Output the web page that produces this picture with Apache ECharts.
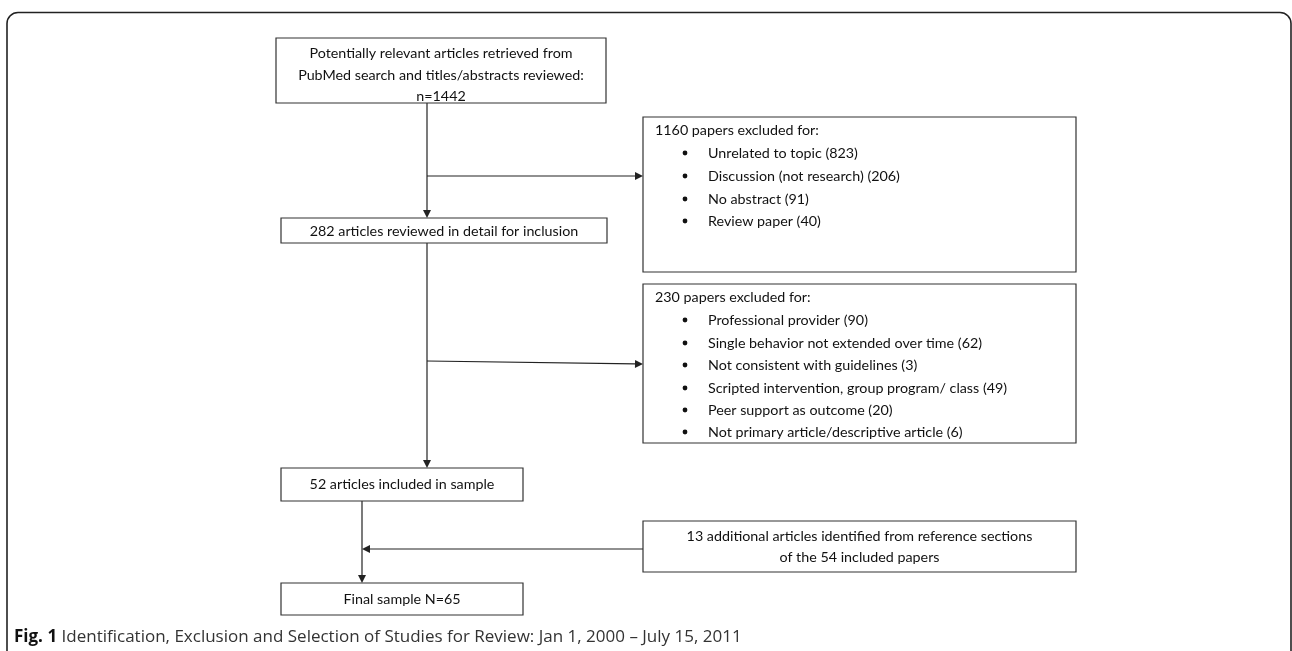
<!DOCTYPE html>
<html><head><meta charset="utf-8">
<script src="https://cdn.jsdelivr.net/npm/echarts@6/dist/echarts.min.js"></script>
<style>html,body{margin:0;padding:0;background:#fff}#c{width:1292px;height:651px}</style>
</head><body><div id="c"></div><script>
// ---- data ----
const totalRetrieved = 1442;
const excluded1Total = 1160;
const excluded1Reasons = ['Unrelated to topic', 'Discussion (not research)', 'No abstract', 'Review paper'];
const excluded1Counts = [823, 206, 91, 40];
const reviewedCount = 282;
const excluded2Total = 230;
const excluded2Reasons = ['Professional provider', 'Single behavior not extended over time', 'Not consistent with guidelines', 'Scripted intervention, group program/ class', 'Peer support as outcome', 'Not primary article/descriptive article'];
const excluded2Counts = [90, 62, 3, 49, 20, 6];
const includedCount = 52;
const additionalCount = 13;
const includedPapersRef = 54;
const finalCount = 65;
const captionBold = 'Fig. 1';
const captionText = 'Identification, Exclusion and Selection of Studies for Review: Jan 1, 2000 \u2013 July 15, 2011';

// ---- box contents built from data ----
const boxTexts = [
  {kind: 'center', lines: ['Potentially relevant articles retrieved from', 'PubMed search and titles/abstracts reviewed:', 'n=' + totalRetrieved]},
  {kind: 'list', title: excluded1Total + ' papers excluded for:', items: excluded1Reasons.map((r, i) => r + ' (' + excluded1Counts[i] + ')')},
  {kind: 'center', lines: [reviewedCount + ' articles reviewed in detail for inclusion']},
  {kind: 'list', title: excluded2Total + ' papers excluded for:', items: excluded2Reasons.map((r, i) => r + ' (' + excluded2Counts[i] + ')')},
  {kind: 'center', lines: [includedCount + ' articles included in sample']},
  {kind: 'center', lines: [additionalCount + ' additional articles identified from reference sections', 'of the ' + includedPapersRef + ' included papers']},
  {kind: 'center', lines: ['Final sample N=' + finalCount]}
];

// ---- layout (diagram geometry in axis units) ----
const boxRects = [
  [276, 38, 606, 103],
  [643, 117, 1076, 272],
  [281, 218, 607, 243],
  [643, 284, 1076, 443],
  [281, 468, 523, 501],
  [643, 521, 1076, 572],
  [281, 583, 523, 615]
];
const boxLineYs = [
  [53, 75, 96],
  [130, 153, 176, 199, 221],
  [231],
  [297, 320, 343, 365, 388, 410, 432],
  [484],
  [536, 557],
  [599]
];
const listTitleX = 655, bulletX = 685, itemX = 708;
const arrows = [
  [427, 103, 427, 218],
  [427, 176, 643, 176],
  [427, 243, 427, 468],
  [427, 361, 643, 364],
  [362, 501, 362, 583],
  [643, 549, 362, 549]
];

const FONT = '14.3px Lato';
const chart = echarts.init(document.getElementById('c'), null, {renderer: 'canvas'});

function renderBox(params, api) {
  const i = params.dataIndex;
  const p1 = api.coord([api.value(0), api.value(1)]);
  const p2 = api.coord([api.value(2), api.value(3)]);
  const t = boxTexts[i];
  const ys = boxLineYs[i];
  const children = [{
    type: 'rect',
    shape: {x: p1[0], y: p1[1], width: p2[0] - p1[0], height: p2[1] - p1[1]},
    style: {fill: '#fff', stroke: '#333', lineWidth: 1.2}
  }];
  const cx = (p1[0] + p2[0]) / 2;
  if (t.kind === 'center') {
    t.lines.forEach((ln, k) => {
      const py = api.coord([0, ys[k]])[1];
      children.push({type: 'text', style: {text: ln, x: cx, y: py, align: 'center', verticalAlign: 'middle', font: FONT, fill: '#111'}});
    });
  } else {
    const ty = api.coord([0, ys[0]])[1];
    children.push({type: 'text', style: {text: t.title, x: api.coord([listTitleX, 0])[0], y: ty, align: 'left', verticalAlign: 'middle', font: FONT, fill: '#111'}});
    t.items.forEach((it, k) => {
      const py = api.coord([0, ys[k + 1]])[1];
      children.push({type: 'circle', shape: {cx: api.coord([bulletX, 0])[0], cy: py, r: 2.4}, style: {fill: '#111'}});
      children.push({type: 'text', style: {text: it, x: api.coord([itemX, 0])[0], y: py, align: 'left', verticalAlign: 'middle', font: FONT, fill: '#111'}});
    });
  }
  return {type: 'group', children};
}

function renderArrow(params, api) {
  const a = api.coord([api.value(0), api.value(1)]);
  const b = api.coord([api.value(2), api.value(3)]);
  const dx = b[0] - a[0], dy = b[1] - a[1];
  const len = Math.sqrt(dx * dx + dy * dy);
  const ux = dx / len, uy = dy / len;
  const hl = 8, hw = 4;
  const bx = b[0] - ux * hl, by = b[1] - uy * hl;
  return {type: 'group', children: [
    {type: 'line', shape: {x1: a[0], y1: a[1], x2: bx, y2: by}, style: {stroke: '#222', lineWidth: 1.2}},
    {type: 'polygon', shape: {points: [[b[0], b[1]], [bx - uy * hw, by + ux * hw], [bx + uy * hw, by - ux * hw]]}, style: {fill: '#222'}}
  ]};
}

chart.setOption({
  animation: false,
  grid: {left: 0, right: 0, top: 0, bottom: 0},
  xAxis: {type: 'value', min: 0, max: 1292, show: false},
  yAxis: {type: 'value', min: 0, max: 651, inverse: true, show: false},
  graphic: [
    {type: 'rect', shape: {x: 7, y: 12.5, width: 1284, height: 700, r: 11}, style: {fill: 'none', stroke: '#222', lineWidth: 1.6}, z: 0},
    {type: 'text', style: {text: '{b|' + captionBold + '} ' + captionText, x: 14, y: 637, verticalAlign: 'middle', font: '17px "Open Sans"', fill: '#333',
      rich: {b: {fontWeight: 'bold', fontSize: 17, fontFamily: 'Open Sans', fill: '#111'}}}, z: 10}
  ],
  series: [
    {type: 'custom', name: 'arrows', coordinateSystem: 'cartesian2d', data: arrows, renderItem: renderArrow, encode: {x: [0, 2], y: [1, 3]}, z: 2, silent: true, clip: false},
    {type: 'custom', name: 'boxes', coordinateSystem: 'cartesian2d', data: boxRects, renderItem: renderBox, encode: {x: [0, 2], y: [1, 3]}, z: 3, silent: true, clip: false}
  ]
});
</script></body></html>
